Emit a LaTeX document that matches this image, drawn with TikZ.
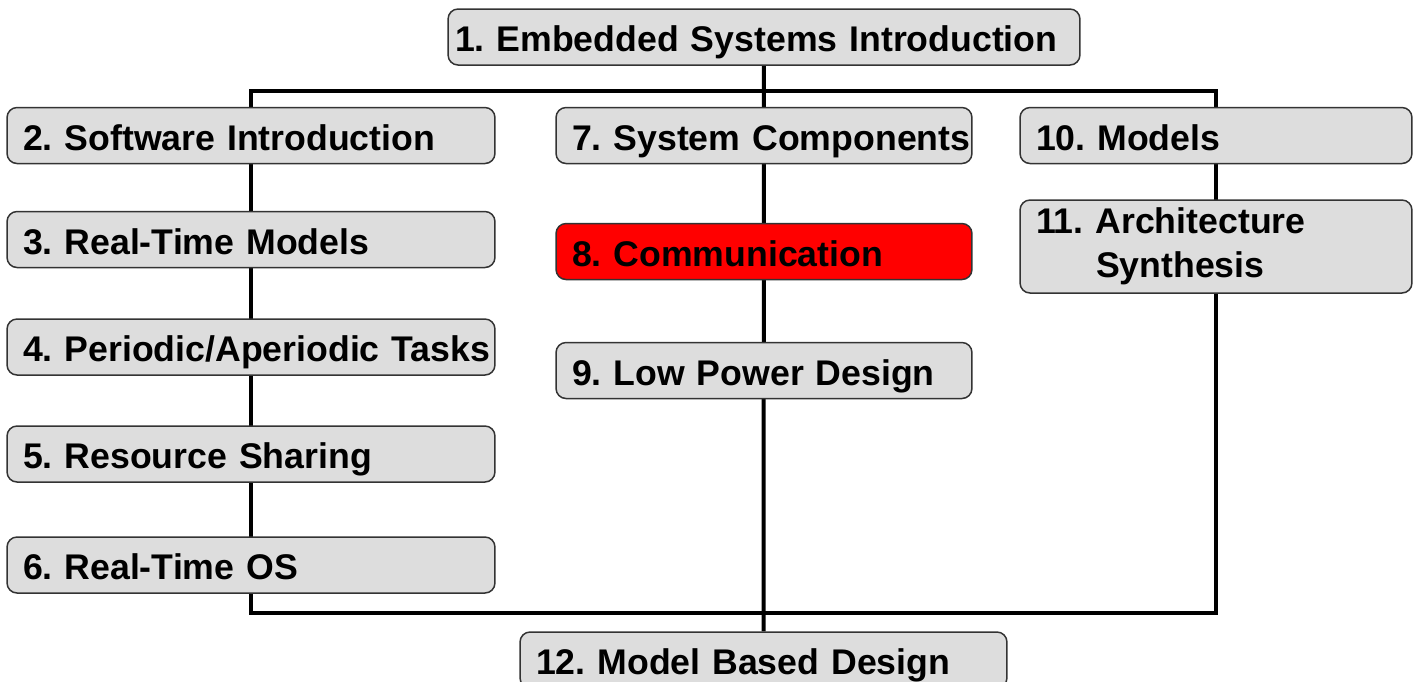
\documentclass[tikz,border=0pt]{standalone}
\usepackage{fontspec}
\setmainfont{Liberation Sans}
\usepackage{tikz}
\usetikzlibrary{positioning,backgrounds}
\definecolor{boxgray}{HTML}{DDDDDD}
\definecolor{boxline}{HTML}{333333}
\frenchspacing
\tikzset{
  topic/.style={
    rectangle, rounded corners=0.2cm, draw=boxline, line width=0.03cm, fill=boxgray,
    font=\fontsize{20.3}{25}\selectfont\bfseries, align=left,
    inner xsep=0.04cm, inner ysep=0pt, minimum height=1.12cm,
    text height=0.7cm, text depth=0.11cm,
    execute at begin node={\leftskip=0.28cm\rightskip=0pt plus 1fil minus 0.5cm\hyphenpenalty=10000}
  },
  hot/.style={topic, fill=red},
  leftcol/.style={text width=9.68cm},
  midcol/.style={text width=8.24cm},
  rightcol/.style={text width=7.76cm},
  bus/.style={draw=black, line width=0.08cm, line join=miter},
}
\begin{document}
\begin{tikzpicture}[x=0.02cm, y=-0.02cm]
  \useasboundingbox (0,0) rectangle (1418,681);

  \node[topic, text width=12.56cm, execute at begin node={\leftskip=0.1cm}] (n1) at (764,37) {1. Embedded Systems Introduction};

  %software column
  \node[topic, leftcol] (n2) at (251,135.5) {2. Software Introduction};
  \node[topic, leftcol] (n3) at (251,239.5) {3. Real-Time Models};
  \node[topic, leftcol] (n4) at (251,347) {4. Periodic/Aperiodic Tasks};
  \node[topic, leftcol] (n5) at (251,454) {5. Resource Sharing};
  \node[topic, leftcol] (n6) at (251,565) {6. Real-Time OS};

  %hardware column
  \node[topic, midcol] (n7) at (764,135.5) {7. System Components};
  \node[hot, midcol] (n8) at (764,251.5) {8. Communication};
  \node[topic, midcol] (n9) at (764,370.5) {9. Low Power Design};

  %design column
  \node[topic, rightcol] (n10) at (1216,135.5) {10. Models};
  \node[topic, rightcol, text height={}, text depth={}, minimum height=1.86cm] (n11) at (1216,246.5)
    {11. Architecture\\\hspace*{1.2cm}Synthesis};

  \node[topic, text width=9.66cm] (n12) at (763.5,660) {12. Model Based Design};

  \coordinate (bustop) at (0,91);
  \coordinate (busbot) at (0,613);

  \begin{scope}[on background layer]
    \path[bus] (n1) edge (n12);
    \draw[bus] (n2 |- bustop) -- (n10 |- bustop) -- (n10 |- busbot) -- (n2 |- busbot) -- cycle;
  \end{scope}
\end{tikzpicture}
\end{document}
